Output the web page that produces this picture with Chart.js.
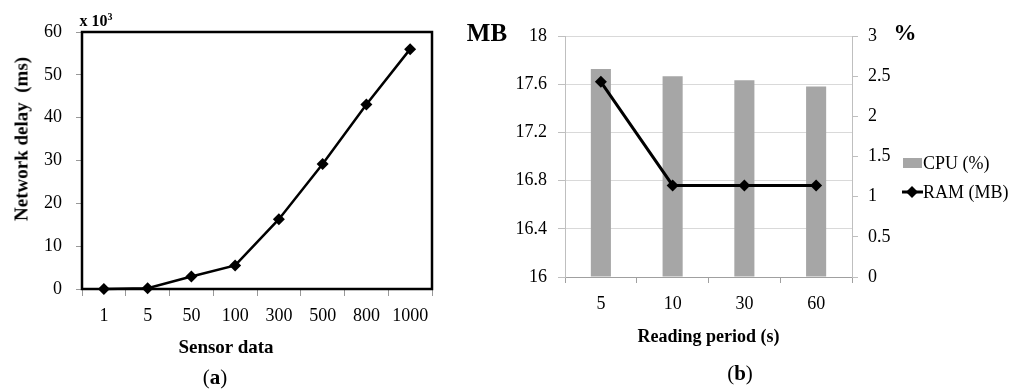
<!DOCTYPE html>
<html>
<head>
<meta charset="utf-8">
<script src="https://cdn.jsdelivr.net/npm/chart.js@4.4.0/dist/chart.umd.min.js"></script>
<style>
body { margin: 0; background: #fff; }
#wrap { position: relative; width: 1011px; height: 392px; overflow: hidden; font-family: "Liberation Serif", serif; color: #000; }
canvas { position: absolute; top: 0; }
.t { position: absolute; transform: translate(-50%, -50%); white-space: pre; line-height: 1; }
.b { font-weight: bold; }
.lg { position: absolute; left: 923px; transform: translateY(-50%); font-size: 18px; line-height: 1; white-space: pre; }
</style>
</head>
<body>
<div id="wrap">
  <canvas id="chartA" width="450" height="392" style="left:0"></canvas>
  <canvas id="chartB" width="470" height="392" style="left:450px"></canvas>

  <div class="t b" style="left:96px;top:20px;font-size:16px">x 10<sup style="font-size:10px;vertical-align:6px">3</sup></div>
  <div class="t b" style="left:21px;top:139px;font-size:19px;transform:translate(-50%,-50%) rotate(-90deg)">Network delay  (ms)</div>
  <div class="t b" style="left:226px;top:346px;font-size:19px">Sensor data</div>
  <div class="t" style="left:215px;top:377px;font-size:21px">(<b>a</b>)</div>

  <div class="t b" style="left:487px;top:32px;font-size:25px">MB</div>
  <div class="t b" style="left:905px;top:32px;font-size:23px">%</div>
  <div class="t" style="left:740px;top:373px;font-size:21px">(<b>b</b>)</div>

  <div style="position:absolute;left:903px;top:158px;width:19px;height:10px;background:#a6a6a6"></div>
  <div class="lg" style="top:163px">CPU (%)</div>
  <svg style="position:absolute;left:900px;top:184px" width="24" height="16">
    <line x1="2" y1="8" x2="23" y2="8" stroke="#000" stroke-width="3"/>
    <polygon points="12,2 18,8 12,14 6,8" fill="#000"/>
  </svg>
  <div class="lg" style="top:192px">RAM (MB)</div>
</div>

<script>
// (a) network delay vs amount of sensor data, values in thousands of ms
var sensorLabels = ['1', '5', '50', '100', '300', '500', '800', '1000'];
var delayValues = [0, 0.2, 2.9, 5.5, 16.3, 29.2, 43.1, 56.0];

// (b) resource use vs reading period
var periodLabels = ['5', '10', '30', '60'];
var cpuValues = [2.59, 2.50, 2.45, 2.37];
var ramValues = [17.62, 16.76, 16.76, 16.76];

var tickFont = { family: 'Liberation Serif', size: 18 };

function fixWidth(w) {
  return function (scale) { scale.width = w; };
}
function fixHeight(h) {
  return function (scale) { scale.height = h; };
}
function oneDecimal(v) {
  return String(Number(v.toFixed(1)));
}

// black box round the plot area of chart (a)
var framePlugin = {
  id: 'frame',
  beforeDatasetsDraw: function (chart) {
    var a = chart.chartArea;
    var ctx = chart.ctx;
    ctx.save();
    ctx.strokeStyle = '#000';
    ctx.lineWidth = 2.5;
    ctx.strokeRect(a.left, a.top, a.right - a.left, a.bottom - a.top);
    ctx.restore();
  }
};

new Chart(document.getElementById('chartA'), {
  type: 'line',
  data: {
    labels: sensorLabels,
    datasets: [{
      label: 'Network delay',
      data: delayValues,
      borderColor: '#000',
      backgroundColor: '#000',
      borderWidth: 2.5,
      tension: 0,
      pointStyle: 'rectRot',
      pointRadius: 6,
      pointBorderWidth: 0,
      clip: false
    }]
  },
  options: {
    responsive: false,
    animation: false,
    layout: { padding: { top: 32, right: 18, left: 0, bottom: 0 } },
    plugins: { legend: { display: false }, tooltip: { enabled: false } },
    scales: {
      x: {
        offset: true,
        grid: { offset: true, drawOnChartArea: false, tickLength: 7, tickColor: '#999', tickWidth: 1 },
        border: { display: false },
        ticks: { color: '#000', font: tickFont, padding: 9, maxRotation: 0, autoSkip: false },
        afterFit: fixHeight(103)
      },
      y: {
        min: 0,
        max: 60,
        ticks: { stepSize: 10, color: '#000', font: tickFont, padding: 14 },
        grid: { drawOnChartArea: false, tickLength: 6, tickColor: '#999', tickWidth: 1 },
        border: { display: false },
        afterFit: fixWidth(82)
      }
    }
  },
  plugins: [framePlugin]
});

new Chart(document.getElementById('chartB'), {
  data: {
    labels: periodLabels,
    datasets: [{
      type: 'line',
      label: 'RAM (MB)',
      data: ramValues,
      yAxisID: 'y',
      borderColor: '#000',
      backgroundColor: '#000',
      borderWidth: 3,
      tension: 0,
      pointStyle: 'rectRot',
      pointRadius: 6,
      pointBorderWidth: 0,
      order: 0
    }, {
      type: 'bar',
      label: 'CPU (%)',
      data: cpuValues,
      yAxisID: 'y1',
      backgroundColor: '#a6a6a6',
      categoryPercentage: 1,
      barPercentage: 0.28,
      order: 1
    }]
  },
  options: {
    responsive: false,
    animation: false,
    layout: { padding: { top: 36, right: 0, left: 0, bottom: 40 } },
    plugins: { legend: { display: false }, tooltip: { enabled: false } },
    scales: {
      x: {
        offset: true,
        grid: { offset: true, drawOnChartArea: false, tickLength: 6, tickColor: '#a0a0a0' },
        border: { color: '#a0a0a0', width: 1 },
        ticks: { color: '#000', font: tickFont, padding: 10, maxRotation: 0 },
        title: {
          display: true,
          text: 'Reading period (s)',
          color: '#000',
          font: { family: 'Liberation Serif', size: 18, weight: 'bold' },
          padding: { top: 0, bottom: 4 }
        },
        afterFit: fixHeight(75)
      },
      y: {
        position: 'left',
        min: 16,
        max: 18,
        ticks: { stepSize: 0.4, color: '#000', font: tickFont, padding: 11, callback: oneDecimal },
        grid: { color: '#d9d9d9', tickLength: 7, tickColor: '#bfbfbf' },
        border: { color: '#bfbfbf', width: 1 },
        afterFit: fixWidth(115)
      },
      y1: {
        position: 'right',
        min: 0,
        max: 3,
        ticks: { stepSize: 0.5, color: '#000', font: tickFont, padding: 10, callback: oneDecimal },
        grid: { drawOnChartArea: false, tickLength: 6, tickColor: '#bfbfbf' },
        border: { color: '#bfbfbf', width: 1 },
        afterFit: fixWidth(68)
      }
    }
  }
});
</script>
</body>
</html>
